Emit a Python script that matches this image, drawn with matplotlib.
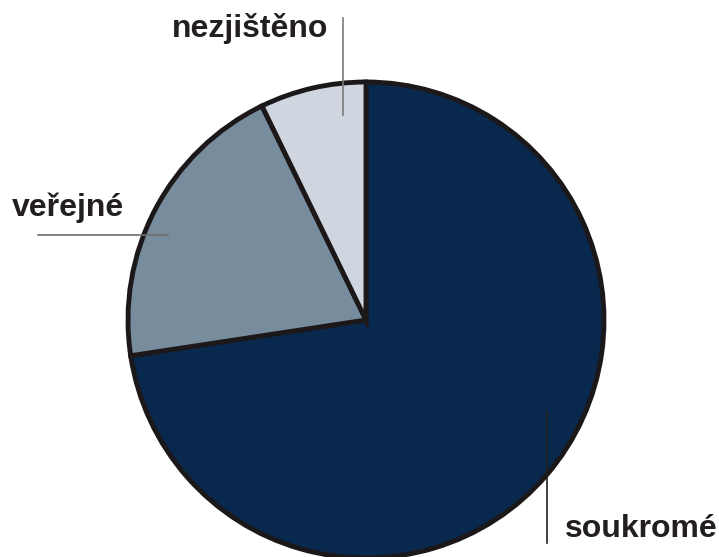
import matplotlib.pyplot as plt

# Share by category (%), clockwise from the top
labels = ['soukromé', 'veřejné', 'nezjištěno']
values = [72.6, 20.2, 7.2]
colors = ['#08284d', '#778c9d', '#d0d6df']

fig = plt.figure(figsize=(7.19, 5.57), dpi=100)
ax = fig.add_axes([0, 0, 1, 1])
ax.set_xlim(0, 719)
ax.set_ylim(0, 557)
ax.set_aspect('equal')
ax.axis('off')

ax.pie(values, colors=colors, startangle=90, counterclock=False,
       center=(366, 237), radius=238,
       wedgeprops=dict(edgecolor='#1c1718', linewidth=3.5))
ax.set_xlim(0, 719)
ax.set_ylim(0, 557)

# Leader lines
ax.plot([343, 343], [557 - 18, 557 - 115], color='#7a7a7a', lw=1.2)
ax.plot([38, 168], [557 - 235, 557 - 235], color='#6e6e6e', lw=1.2)
ax.plot([547, 547], [557 - 412, 557 - 543], color='#231f20', lw=1.2)

font = dict(family=['Liberation Sans', 'DejaVu Sans'], fontsize=23,
            fontweight='bold', color='#231f20', va='baseline')
ax.text(172, 557 - 37, labels[2], ha='left', **font)
ax.text(12, 557 - 216, labels[1], ha='left', **font)
ax.text(565, 557 - 537, labels[0], ha='left', **font)

fig.savefig('out.png', dpi=100)
